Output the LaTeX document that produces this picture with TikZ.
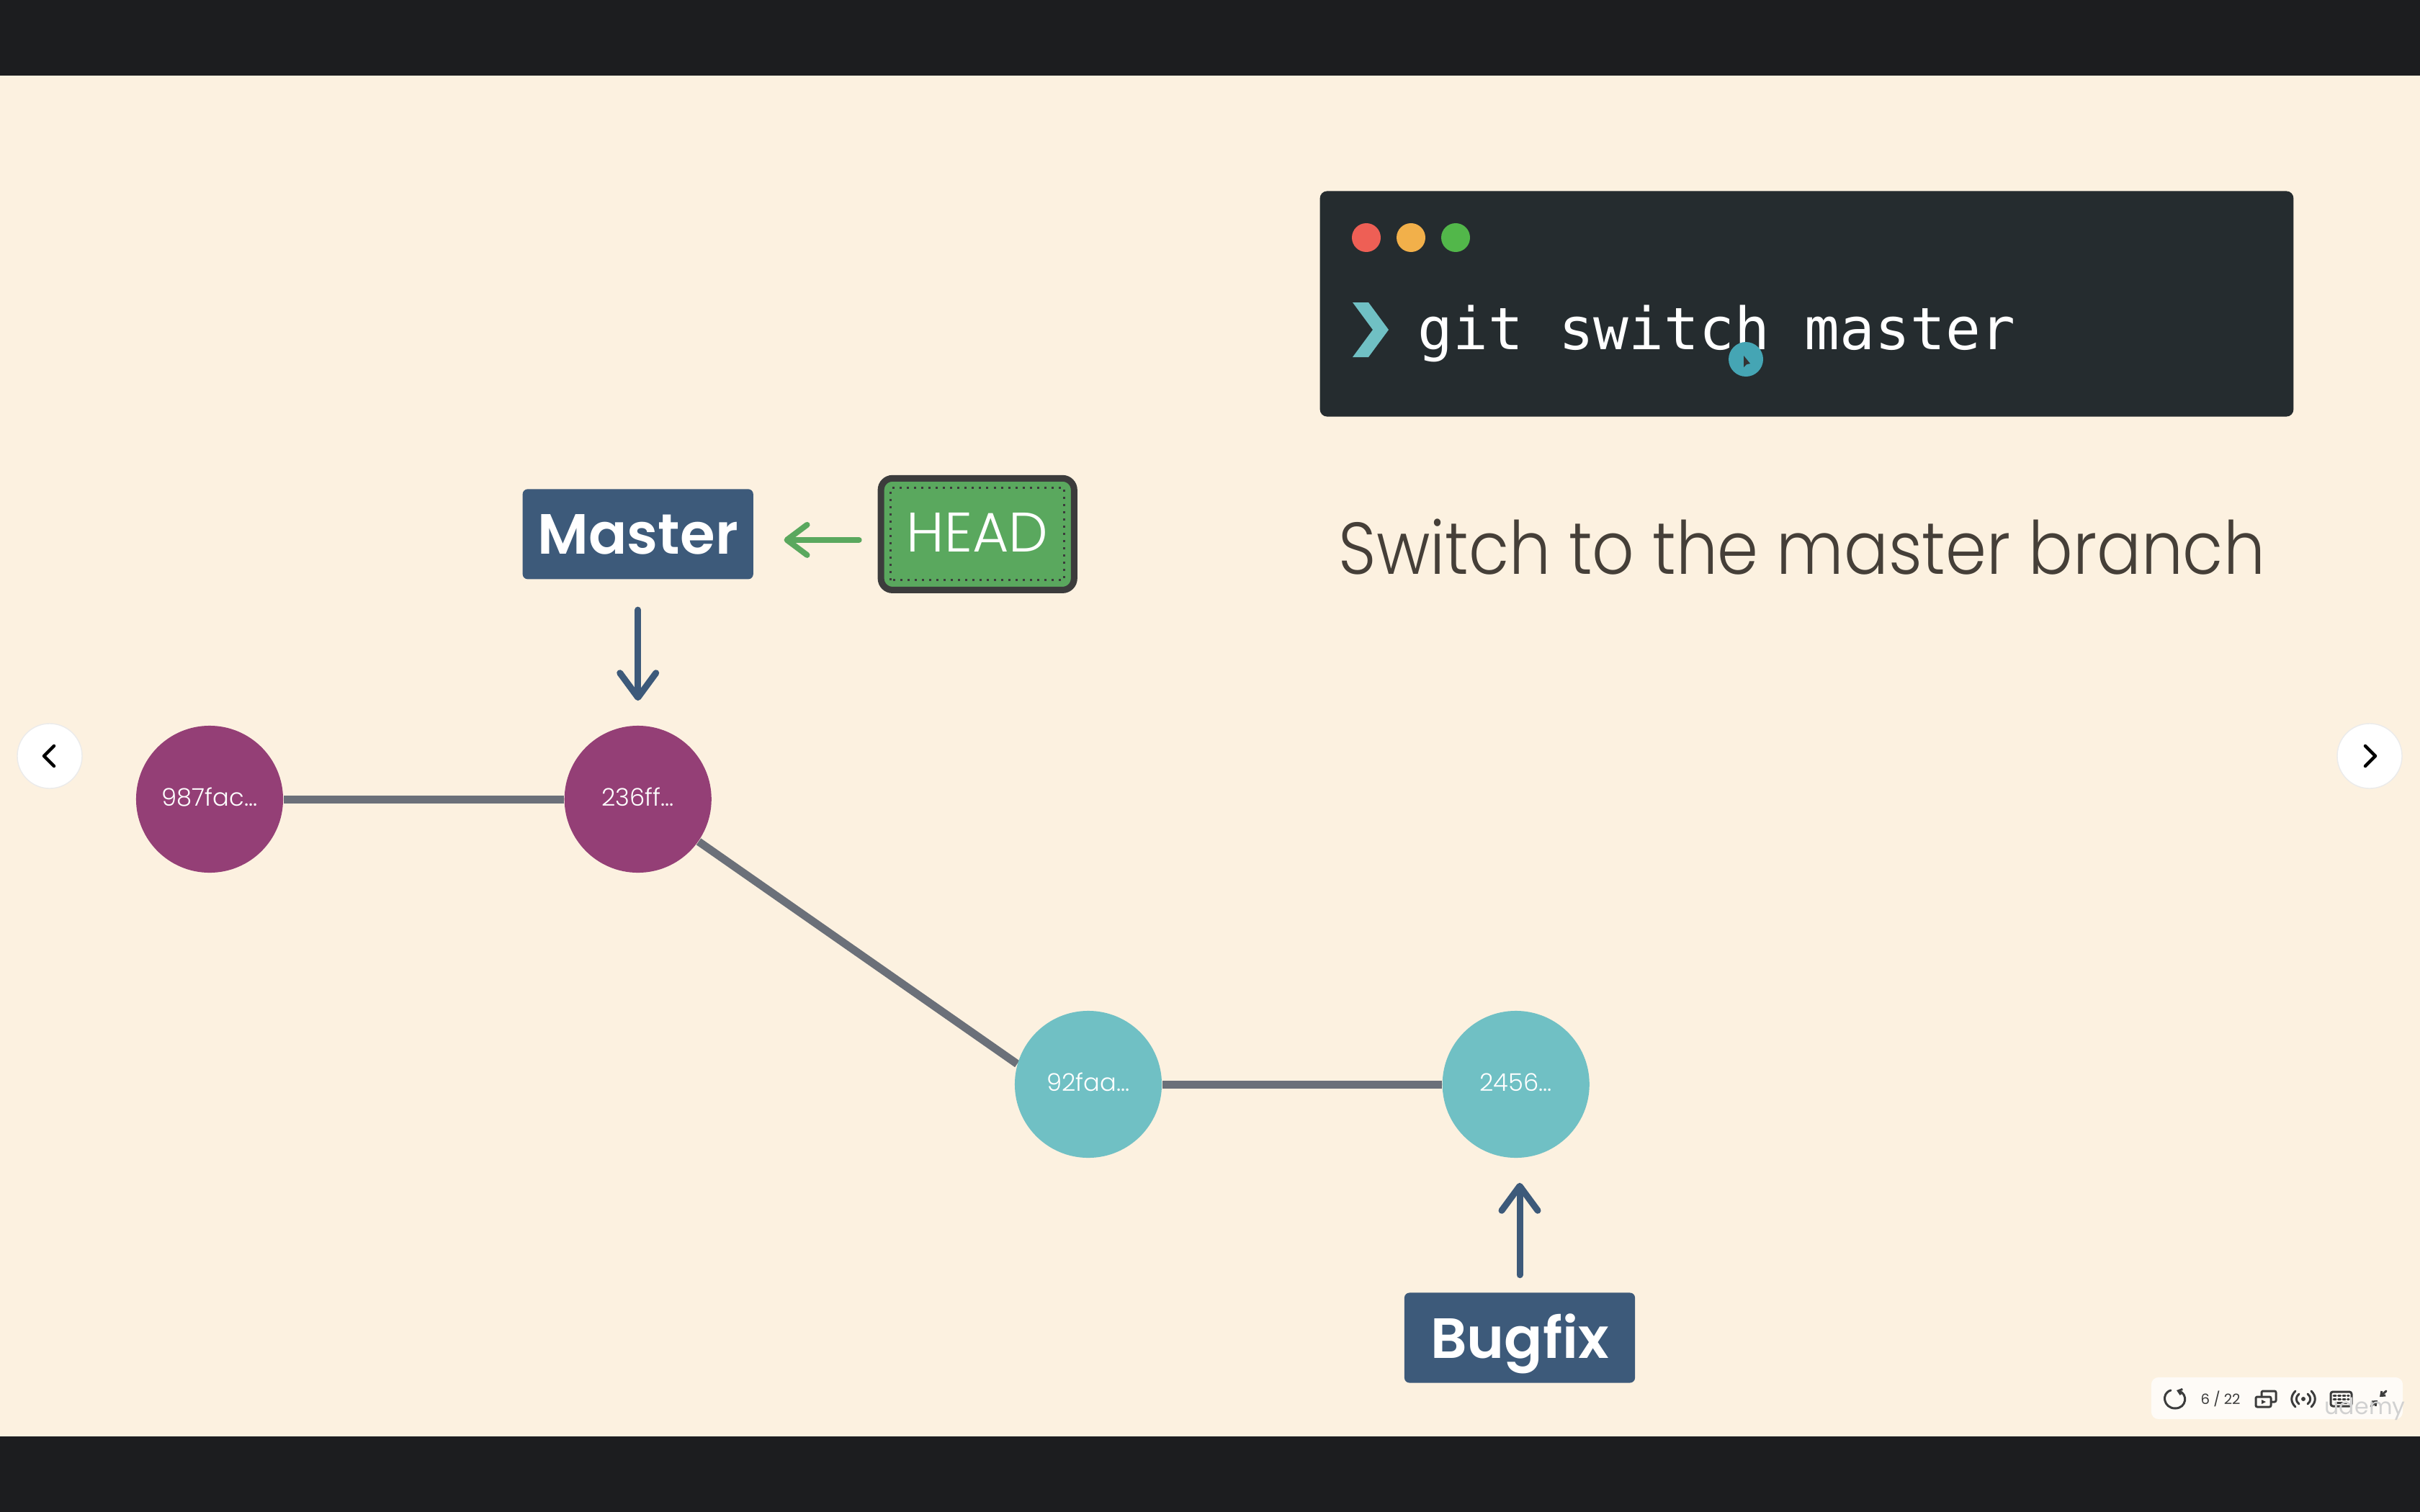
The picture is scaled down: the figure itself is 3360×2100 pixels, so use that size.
\documentclass[tikz,border=0pt]{standalone}
\usepackage{fontspec}
\usetikzlibrary{arrows.meta,positioning,calc,backgrounds}
\setmainfont{Poppins}
\newfontfamily\lightfont{Poppins Light}
\newfontfamily\subtitlefont[FakeStretch=0.897]{Poppins Light}
\newfontfamily\branchfont{Poppins SemiBold}
\newfontfamily\termfont{DejaVu Sans Mono}
\definecolor{slidebg}{HTML}{FCF1E0}
\definecolor{barcol}{HTML}{1C1D1F}
\definecolor{termcol}{HTML}{252C2F}
\definecolor{branchcol}{HTML}{3D5A7A}
\definecolor{headcol}{HTML}{5AA85E}
\definecolor{edgecol}{HTML}{6B7079}
\definecolor{plumcol}{HTML}{943F76}
\definecolor{tealcol}{HTML}{70C0C4}
\definecolor{inkcol}{HTML}{453F38}
\definecolor{iconcol}{HTML}{3C3C3C}
\definecolor{reddot}{HTML}{EE5F55}
\definecolor{yellowdot}{HTML}{F2B04A}
\definecolor{greendot}{HTML}{52B74A}
\definecolor{cursorcol}{HTML}{45A5B4}
\begin{document}
\begin{tikzpicture}[x=0.01cm,y=-0.01cm]
\tikzset{
     commit/.style={circle,minimum size=2.04cm,inner sep=0pt,text=white,text height=0.3cm,text depth=0.12cm,
        font=\lightfont\fontsize{9.6}{12}\selectfont},
     plum/.style={commit,fill=plumcol},
     teal/.style={commit,fill=tealcol},
     branchbox/.style={fill=branchcol,rounded corners=0.07cm,minimum width=3.2cm,minimum height=1.25cm,
        inner sep=0pt,text=white,text height=0.8cm,text depth=0.24cm,font=\branchfont\fontsize{22.4}{28}\selectfont},
     link/.style={draw=edgecol,line width=0.11cm},
     pointer/.style={draw=branchcol,line width=0.09cm,line cap=round,
        -{Straight Barb[length=0.34cm,width=0.5cm,round]}},
     navbtn/.style={circle,fill=white,draw=black!8,minimum size=0.9cm,inner sep=0pt},
     icon/.style={draw=iconcol,line width=0.03cm,line cap=round,line join=round}}

% The slide
\begin{scope}[on background layer]
\fill[slidebg] (0,0) rectangle (3360,2100);
\fill[barcol] (0,0) rectangle (3360,105);
\fill[barcol] (0,1995) rectangle (3360,2100);
\end{scope}

% The terminal
\node (terminal) at (2508.5,422) [fill=termcol,rounded corners=0.1cm,minimum width=13.51cm,minimum height=3.13cm,inner sep=0pt] {};
\fill[reddot] (1897,330) circle (20);
\fill[yellowdot] (1959,330) circle (20);
\fill[greendot] (2021,330) circle (20);
\fill[tealcol] (1878,420) -- (1900,420) -- (1928,458) -- (1900,496) -- (1878,496) -- (1906,458) -- cycle;
\node (command) at (1968,485) [anchor=base west,inner sep=0pt,text=white,font=\termfont\fontsize{23.06}{28}\selectfont] {git switch master};
\fill[cursorcol] (2424,499) circle (24);
\fill[black!80] (2421,494) -- (2421,510) -- (2425,506) -- (2430,505) -- cycle;

\node (subtitle) at (1858,797) [anchor=base west,inner sep=0pt,text=inkcol,font=\subtitlefont\fontsize{29}{34}\selectfont] {Switch to the master branch};

% The commits
\node (firstcommit)  at (291,1110) [plum] {987fac...};
\node (secondcommit) [plum, right=3.89cm of firstcommit] {236ff...};
\node (thirdcommit)  at (1511,1506) [teal] {92faa...};
\node (fourthcommit) [teal, right=3.88cm of thirdcommit] {2456...};

% The branches
\node (masterbox) [branchbox, above=2.02cm of secondcommit] {Master};
\node (headbox) [right=1.72cm of masterbox,fill=headcol,draw=iconcol,line width=0.09cm,rounded corners=0.16cm,
   minimum width=2.68cm,minimum height=1.55cm,inner sep=0pt,text=white,text height=0.7cm,text depth=0.2cm,
   font=\lightfont\fontsize{22}{26}\selectfont] {HEAD};
\draw[iconcol,line width=0.03cm,dotted] ($(headbox.south west)+(18,-18)$) rectangle ($(headbox.north east)+(-18,18)$);
\node (bugfixbox) at (2110,1858) [branchbox] {Bugfix};

% The links
\begin{scope}[on background layer]
\draw [link] (firstcommit) -- (secondcommit);
\draw [link] (secondcommit) -- (thirdcommit.164);
\draw [link] (thirdcommit) -- (fourthcommit);
\end{scope}

% The pointers
\draw [pointer] (masterbox.south) ++(0,42) -- ($(secondcommit.north)+(0,-34)$);
\draw [pointer] (bugfixbox.north) ++(0,-24) -- ($(bugfixbox.north |- fourthcommit.south)+(0,34)$);
\draw [pointer,draw=headcol,line width=0.08cm,-{Straight Barb[length=0.28cm,width=0.42cm,round]}]
   ($(headbox.west)+(-26,8)$) -- ($(masterbox.east)+(42,8)$);

% The slide controls
\node (prevbtn) at (69,1050) [navbtn] {};
\node (nextbtn) at (3290,1050) [navbtn] {};
\draw[line width=0.045cm,line cap=round,line join=round] (75,1036) -- (61,1050) -- (75,1064);
\draw[line width=0.045cm,line cap=round,line join=round] (3284,1036) -- (3298,1050) -- (3284,1064);

\node (toolbar) at (3161.5,1942) [fill=white!75!slidebg,rounded corners=0.1cm,minimum width=3.49cm,minimum height=0.58cm,inner sep=0pt] {};
\draw[icon,->,>={Straight Barb[length=0.05cm,width=0.08cm]}] (3014,1931) .. controls (3000,1935) and (3004,1956) .. (3020,1956)
   .. controls (3036,1956) and (3038,1936) .. (3022,1931);
\node (pagecount) at (3083,1943) [inner sep=0pt,text=iconcol,font=\fontsize{5.6}{7}\selectfont] {6 / 22};
\draw[icon,rounded corners=0.02cm] (3132,1940) rectangle (3153,1954);
\draw[icon,rounded corners=0.02cm] (3140,1940) -- (3140,1932) -- (3160,1932) -- (3160,1947) -- (3153,1947);
\fill[iconcol] (3140,1944) -- (3140,1950) -- (3146,1947) -- cycle;
\fill[iconcol] (3198,1943) circle (3);
\draw[icon] (3192,1936) .. controls (3187,1940) and (3187,1946) .. (3192,1950);
\draw[icon] (3204,1936) .. controls (3209,1940) and (3209,1946) .. (3204,1950);
\draw[icon] (3187,1932) .. controls (3180,1939) and (3180,1947) .. (3187,1954);
\draw[icon] (3209,1932) .. controls (3216,1939) and (3216,1947) .. (3209,1954);
\draw[icon,rounded corners=0.03cm] (3236,1933) rectangle (3265,1953);
\draw[icon,densely dotted] (3240,1938) -- (3261,1938);
\draw[icon,densely dotted] (3240,1943) -- (3261,1943);
\draw[icon] (3243,1948) -- (3258,1948);
\draw[icon,->,>={Straight Barb[length=0.05cm,width=0.08cm]}] (3292,1953) -- (3301,1945);
\draw[icon,->,>={Straight Barb[length=0.05cm,width=0.08cm]}] (3313,1932) -- (3304,1940);
\node (watermark) at (3227,1964) [anchor=base west,inner sep=0pt,text=black!18,font=\fontsize{9}{12}\selectfont] {udemy};
\end{tikzpicture}
\end{document}
